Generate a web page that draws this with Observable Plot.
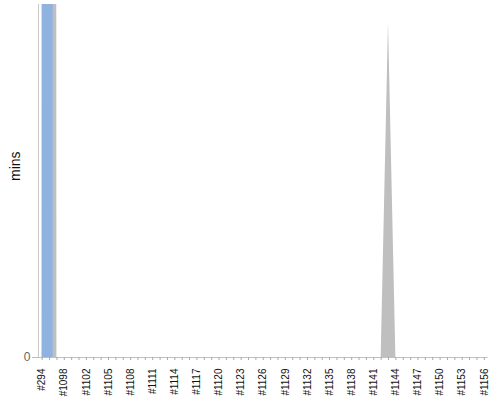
<!DOCTYPE html>
<html>
<head>
<meta charset="utf-8">
<script src="https://cdn.jsdelivr.net/npm/d3@7"></script>
<script src="https://cdn.jsdelivr.net/npm/@observablehq/plot@0.6"></script>
<style>
  html, body { margin: 0; padding: 0; background: #fff; }
  #chart { width: 500px; height: 400px; }
</style>
</head>
<body>
<div id="chart"></div>
<script>
const categories = [
  "#294", "#1096", "#1097", "#1098", "#1100", "#1101",
  "#1102", "#1103", "#1104", "#1105", "#1106", "#1107", "#1108", "#1109", "#1110",
  "#1111", "#1112", "#1113", "#1114", "#1115", "#1116", "#1117", "#1118", "#1119",
  "#1120", "#1121", "#1122", "#1123", "#1124", "#1125", "#1126", "#1127", "#1128",
  "#1129", "#1130", "#1131", "#1132", "#1133", "#1134", "#1135", "#1136", "#1137",
  "#1138", "#1139", "#1140", "#1141", "#1142", "#1143", "#1144", "#1145", "#1146",
  "#1147", "#1148", "#1149", "#1150", "#1151", "#1152", "#1153", "#1154", "#1155",
  "#1156"
];
const tickLabels = [
  "#294", "#1098", "#1102", "#1105", "#1108", "#1111", "#1114", "#1117", "#1120",
  "#1123", "#1126", "#1129", "#1132", "#1135", "#1138", "#1141", "#1144", "#1147",
  "#1150", "#1153", "#1156"
];
// blue series (off the top of the chart)
const blueMins = [
  5000, 5000, 0, 0, 0, 0,
  0, 0, 0, 0, 0, 0, 0, 0, 0,
  0, 0, 0, 0, 0, 0, 0, 0, 0,
  0, 0, 0, 0, 0, 0, 0, 0, 0,
  0, 0, 0, 0, 0, 0, 0, 0, 0,
  0, 0, 0, 0, 0, 0, 0, 0, 0,
  0, 0, 0, 0, 0, 0, 0, 0, 0,
  0
];
// gray series
const grayMins = [
  0, 5000, 0, 0, 0, 0,
  0, 0, 0, 0, 0, 0, 0, 0, 0,
  0, 0, 0, 0, 0, 0, 0, 0, 0,
  0, 0, 0, 0, 0, 0, 0, 0, 0,
  0, 0, 0, 0, 0, 0, 0, 0, 0,
  0, 0, 0, 0, 0, 95, 0, 0, 0,
  0, 0, 0, 0, 0, 0, 0, 0, 0,
  0
];
const yTicks = [0];
const yDomain = [0, 100];

const data = categories.map((c, i) => ({cat: c, blue: blueMins[i], gray: grayMins[i]}));

const chart = Plot.plot({
  width: 500,
  height: 400,
  marginTop: 4,
  marginBottom: 43,
  marginLeft: 38,
  marginRight: 12.5,
  style: {fontFamily: "'Liberation Sans', Arial, sans-serif", background: "#fff"},
  x: {type: "point", domain: categories, padding: 0.5, round: false},
  y: {domain: yDomain},
  marks: [
    Plot.areaY(data, {x: "cat", y: "gray", fill: "#bfbfbf", clip: true}),
    Plot.areaY(data, {x: "cat", y: "blue", fill: "#8fb3de", curve: "step", clip: true}),
    Plot.frame({anchor: "left", stroke: "#c8c8c8"}),
    Plot.ruleY([0], {stroke: "#c0c0c0"}),
    Plot.axisX({ticks: categories, tickSize: 3, tickFormat: () => "", stroke: "#aaa", label: null}),
    Plot.axisX({ticks: tickLabels, tickSize: 0, tickPadding: 11, tickRotate: -90, fontSize: 10, fill: "#111", label: null}),
    Plot.axisY({ticks: yTicks, tickSize: 6, tickPadding: 2, fontSize: 12, fill: "#666", stroke: "#bbb", label: null}),
    Plot.text(["mins"], {frameAnchor: "left", dx: -23, rotate: -90, fontSize: 14, fill: "#111", text: d => d})
  ]
});
document.getElementById("chart").appendChild(chart);
</script>
</body>
</html>
